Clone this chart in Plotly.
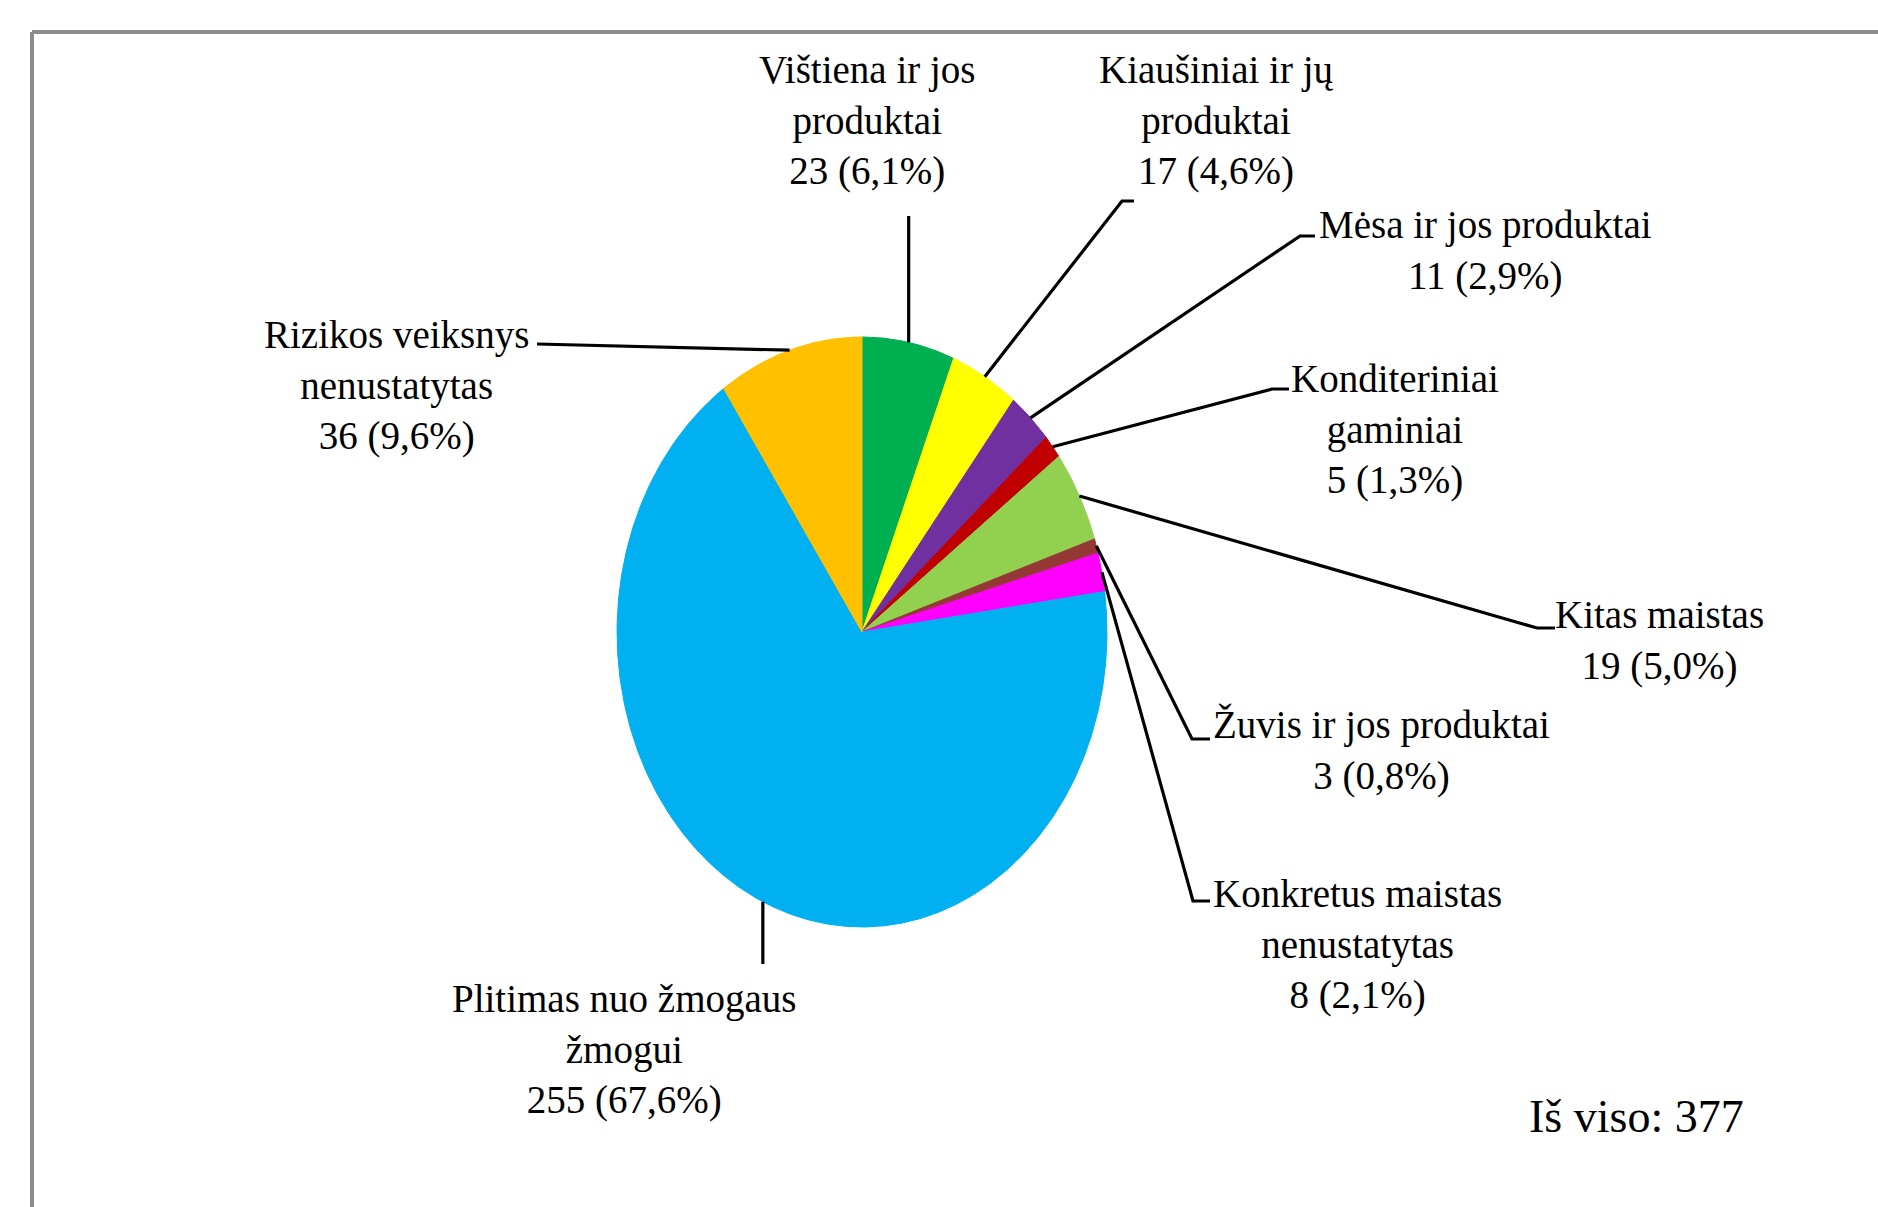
import numpy as np
import plotly.graph_objects as go

# ---- data ----
categories = ["Vištiena ir jos produktai", "Kiaušiniai ir jų produktai", "Mėsa ir jos produktai",
              "Konditeriniai gaminiai", "Kitas maistas", "Žuvis ir jos produktai",
              "Konkretus maistas nenustatytas", "Plitimas nuo žmogaus žmogui",
              "Rizikos veiksnys nenustatytas"]
label_names = ["Vištiena ir jos<br>produktai", "Kiaušiniai ir jų<br>produktai", "Mėsa ir jos produktai",
               "Konditeriniai<br>gaminiai", "Kitas maistas", "Žuvis ir jos produktai",
               "Konkretus maistas<br>nenustatytas", "Plitimas nuo žmogaus<br>žmogui",
               "Rizikos veiksnys<br>nenustatytas"]
values = [23, 17, 11, 5, 19, 3, 8, 255, 36]
percent_labels = ["6,1%", "4,6%", "2,9%", "1,3%", "5,0%", "0,8%", "2,1%", "67,6%", "9,6%"]
total_label = "Iš viso: 377"

# ---- style / layout ----
colors = ["#00B050", "#FFFF00", "#7030A0", "#C00000", "#92D050", "#953735",
          "#FF00FF", "#00B0F0", "#FFC000"]
W, H = 1878, 1207
CX, CY, RX, RY = 862, 632, 245, 295
FONT = "Liberation Serif, Times New Roman, serif"
label_pos = [(867, 120), (1216, 120), (1485, 250), (1395, 429), (1659, 640),
             (1381, 750), (1357, 944), (624, 1049), (396, 385)]
leader_knee = [(908, 216), (1122, 201), (1300, 236), (1272, 389), (1537, 628),
               (1192, 739), (1193, 901), (762, 964), (537, 344)]
leader_end = [None, (1134, 201), (1315, 236), (1289, 389), (1555, 628),
              (1210, 739), (1210, 901), None, None]

fig = go.Figure()

total = sum(values)
cum = np.concatenate([[0], np.cumsum(values)])
angles = cum / total * 2 * np.pi  # clockwise from 12 o'clock

for i, name in enumerate(categories):
    a0, a1 = angles[i], angles[i + 1]
    t = np.linspace(a0, a1, max(8, int((a1 - a0) * 180)))
    xs = np.concatenate([[CX], CX + RX * np.sin(t), [CX]])
    ys = np.concatenate([[CY], CY - RY * np.cos(t), [CY]])
    fig.add_trace(go.Scatter(x=xs, y=ys, mode="lines", fill="toself",
                             fillcolor=colors[i], line=dict(color=colors[i], width=1),
                             name=name, hoverinfo="name", showlegend=False))

# leader lines
for i in range(len(categories)):
    am = (angles[i] + angles[i + 1]) / 2
    ex, ey = CX + RX * np.sin(am), CY - RY * np.cos(am)
    kx, ky = leader_knee[i]
    if leader_end[i] is None and i in (0, 7):
        kx = ex
    xs, ys = [ex, kx], [ey, ky]
    if leader_end[i] is not None:
        xs.append(leader_end[i][0])
        ys.append(leader_end[i][1])
    fig.add_trace(go.Scatter(x=xs, y=ys, mode="lines", line=dict(color="black", width=3.2),
                             hoverinfo="skip", showlegend=False))

# labels
for i in range(len(categories)):
    x, y = label_pos[i]
    fig.add_annotation(x=x, y=y, xref="x", yref="y", showarrow=False,
                       text=f"{label_names[i]}<br>{values[i]} ({percent_labels[i]})",
                       font=dict(family=FONT, size=39, color="black"),
                       xanchor="center", yanchor="middle", align="center")

fig.add_annotation(x=1636, y=1116, xref="x", yref="y", showarrow=False, text=total_label,
                   font=dict(family=FONT, size=46, color="black"),
                   xanchor="center", yanchor="middle")

# chart area border (top and left visible)
fig.add_shape(type="line", x0=32, y0=32, x1=W + 10, y1=32, xref="x", yref="y",
              line=dict(color="#8C8C8C", width=4))
fig.add_shape(type="line", x0=32, y0=32, x1=32, y1=H + 10, xref="x", yref="y",
              line=dict(color="#8C8C8C", width=4))

fig.update_layout(
    width=W, height=H, margin=dict(l=0, r=0, t=0, b=0),
    paper_bgcolor="white", plot_bgcolor="white", showlegend=False,
    xaxis=dict(range=[0, W], visible=False, fixedrange=True),
    yaxis=dict(range=[H, 0], visible=False, fixedrange=True),
)

fig.write_html("out.html", config={"displayModeBar": False},
               post_script="document.body.style.margin='0';")
